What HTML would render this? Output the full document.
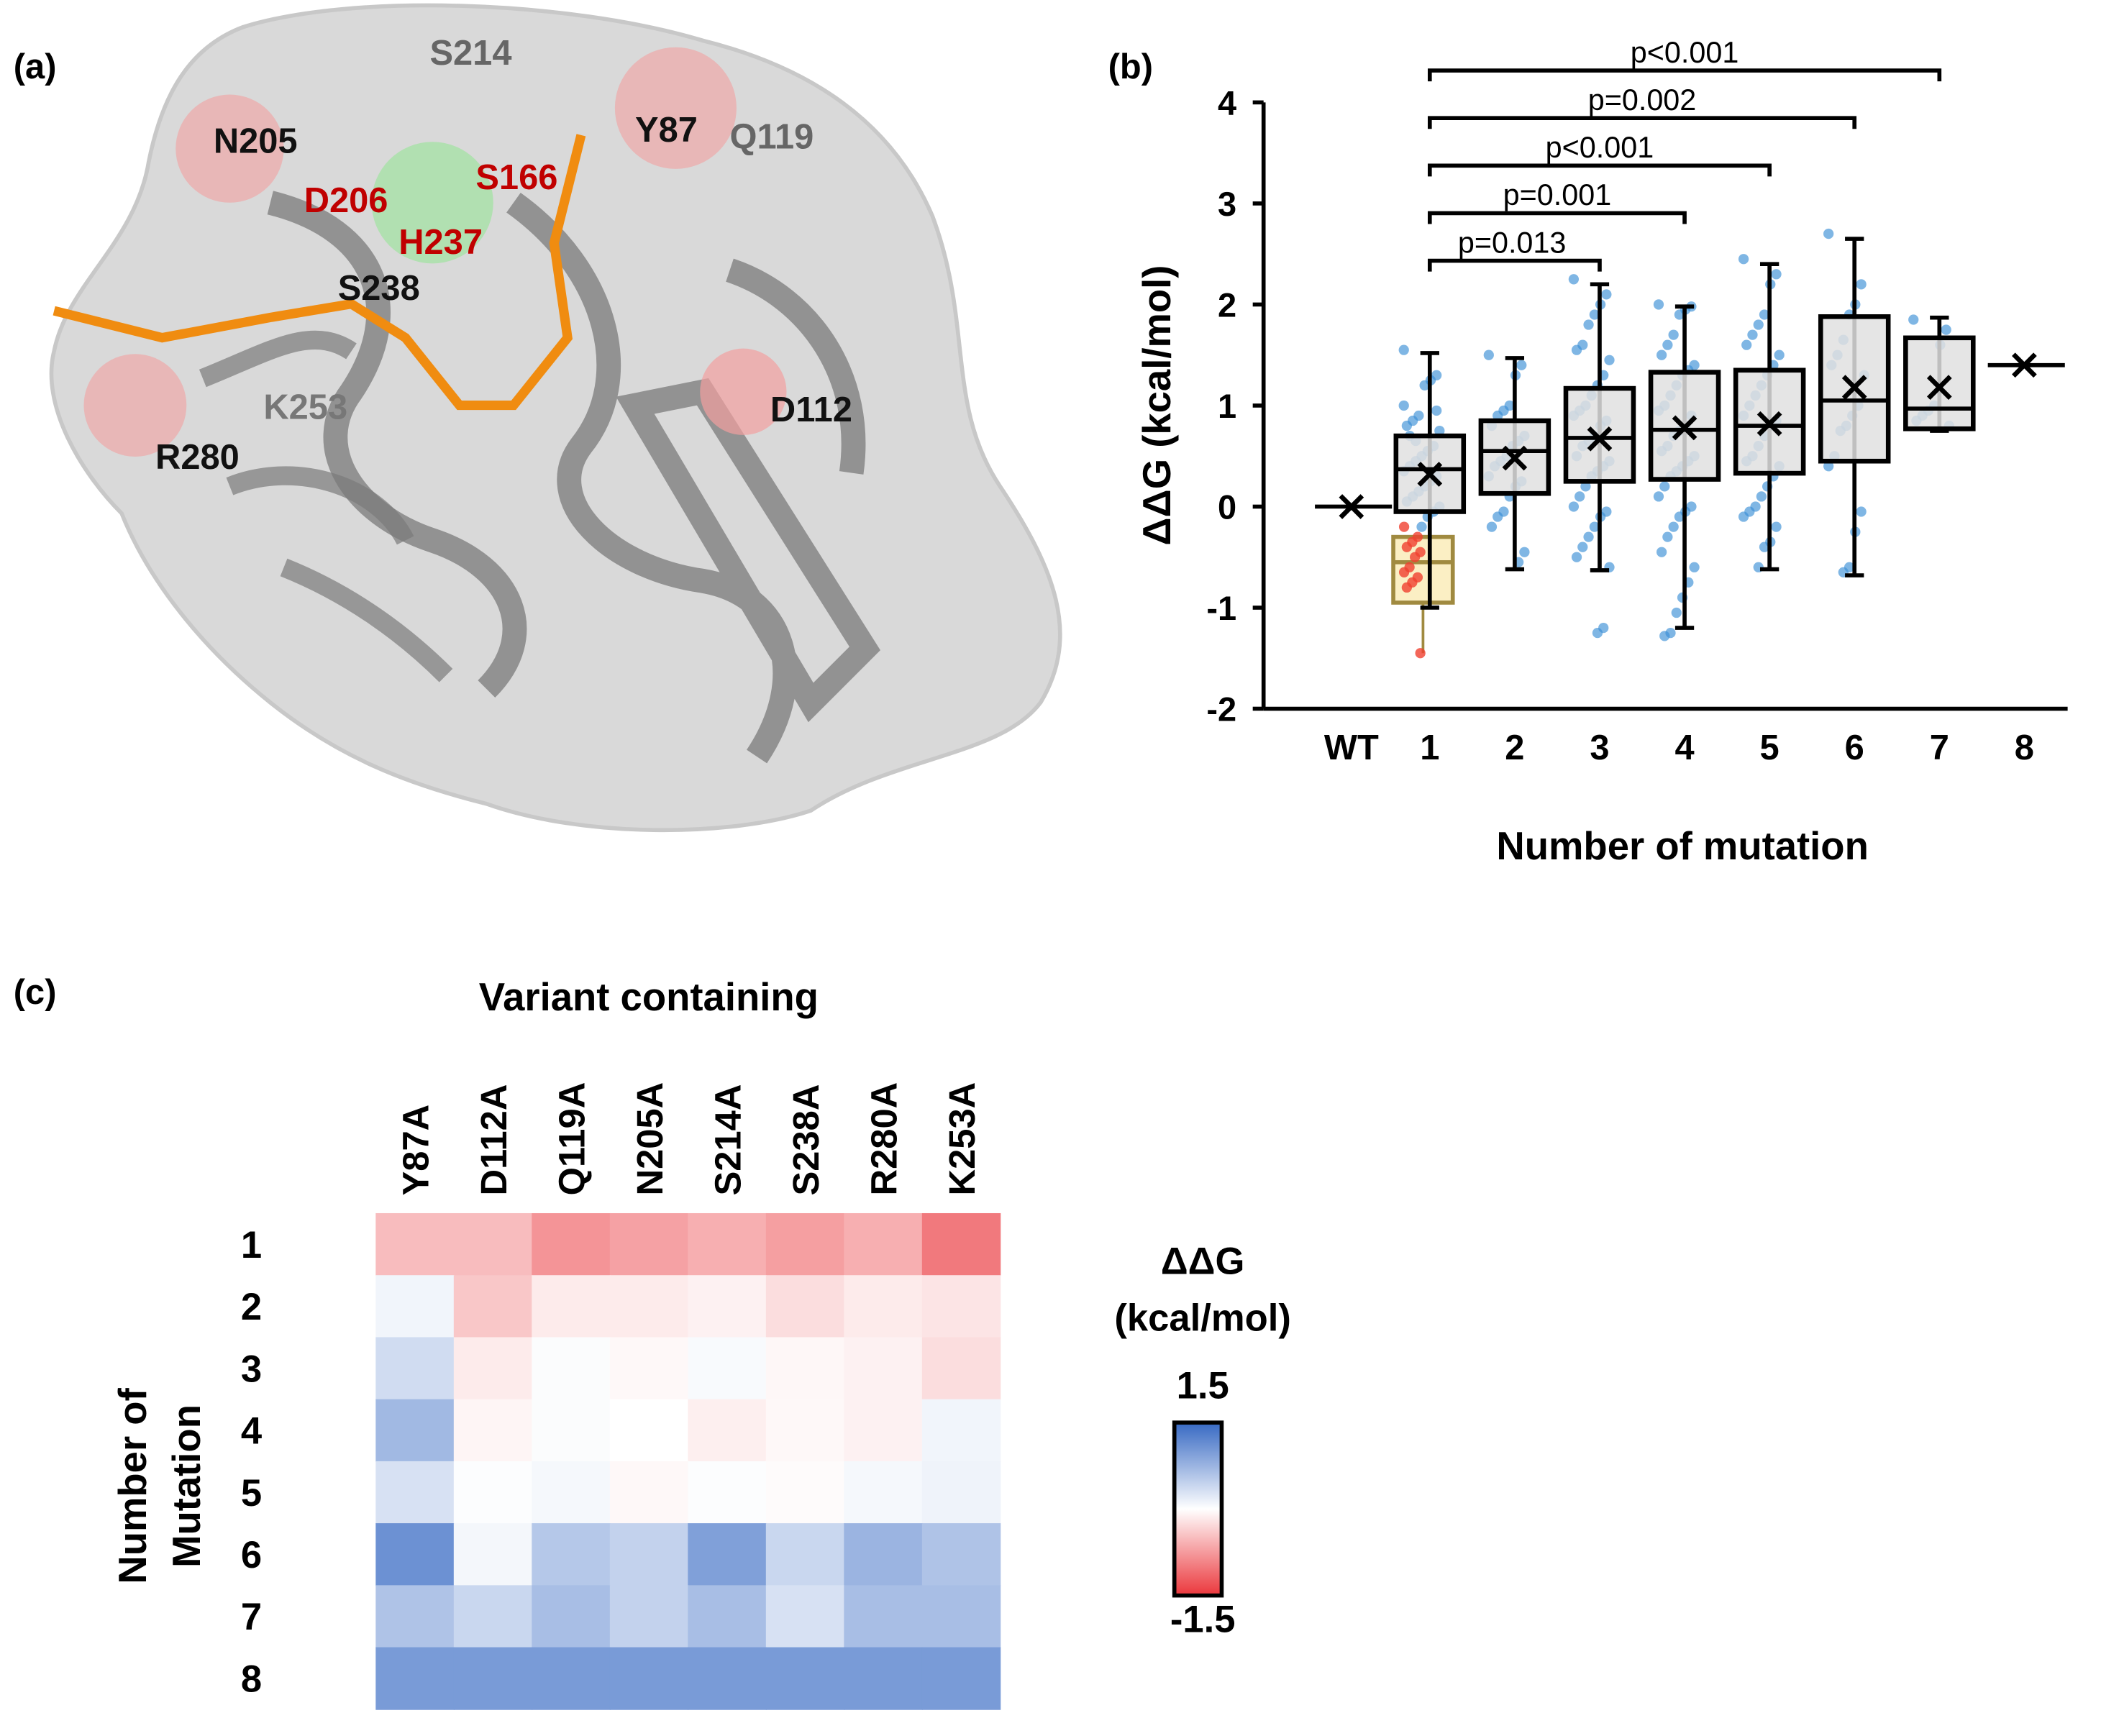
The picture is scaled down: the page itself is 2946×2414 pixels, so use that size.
<!DOCTYPE html>
<html><head><meta charset="utf-8"><style>
html,body{margin:0;padding:0;background:#fff}
svg{display:block}
text{font-family:"Liberation Sans",Arial,sans-serif}
</style></head><body>
<svg id="root" width="2946" height="2414" viewBox="0 0 1568 1285" preserveAspectRatio="none" xmlns="http://www.w3.org/2000/svg">
<rect width="1568" height="1285" fill="#fff"/>
<!-- Panel (a) -->
<g>
<path d="M180,20 C260,-5 420,0 520,30 C600,50 660,90 690,160 C720,240 700,300 740,360 C780,420 800,470 770,520 C740,560 660,560 600,600 C540,620 430,620 360,595 C300,580 250,560 200,520 C150,480 110,430 90,380 C60,350 30,300 40,260 C50,210 100,180 110,120 C120,70 140,35 180,20 Z" fill="#d9d9d9" stroke="#c8c8c8" stroke-width="3"/>
<path d="M200,150 C280,170 300,230 260,290 C230,330 260,380 320,400 C380,420 400,470 360,510 M380,150 C450,200 470,280 430,330 C400,370 450,420 520,430 C580,440 600,500 560,560 M470,300 L600,520 L640,480 L520,290 Z M540,200 C600,220 640,280 630,350" fill="none" stroke="#7a7a7a" stroke-width="18" opacity="0.75"/>
<path d="M170,360 C220,340 280,360 300,400 M210,420 C260,440 300,470 330,500 M150,280 C200,260 230,240 260,260" fill="none" stroke="#7a7a7a" stroke-width="14" opacity="0.7"/>
<circle cx="170" cy="110" r="40" fill="#f2a0a0" opacity="0.6"/>
<circle cx="500" cy="80" r="45" fill="#f2a0a0" opacity="0.6"/>
<circle cx="550" cy="290" r="32" fill="#f2a0a0" opacity="0.7"/>
<circle cx="100" cy="300" r="38" fill="#f2a0a0" opacity="0.6"/>
<circle cx="320" cy="150" r="45" fill="#9fe39f" opacity="0.7"/>
<path d="M40,230 L120,250 L200,235 L260,225 L300,250 L340,300 L380,300 L420,250 L410,180 L430,100" fill="none" stroke="#f08c10" stroke-width="7"/>
<text x="10" y="58" font-size="26" font-weight="bold">(a)</text>
<g font-size="26" font-weight="bold">
<text x="158" y="113" fill="#111">N205</text>
<text x="318" y="48" fill="#666">S214</text>
<text x="470" y="105" fill="#111">Y87</text>
<text x="540" y="110" fill="#666">Q119</text>
<text x="225" y="157" fill="#c00000">D206</text>
<text x="352" y="140" fill="#c00000">S166</text>
<text x="295" y="188" fill="#c00000">H237</text>
<text x="250" y="222" fill="#111">S238</text>
<text x="195" y="310" fill="#777">K253</text>
<text x="115" y="347" fill="#111">R280</text>
<text x="570" y="312" fill="#111">D112</text>
</g>
</g>
<!-- Panel (b) -->
<g id="pb">
<text x="820" y="58" font-size="26" font-weight="bold">(b)</text>
</g>
<!-- Panel (c) -->
<g id="pc">
<text x="10" y="743" font-size="26" font-weight="bold">(c)</text>
</g>
</svg>
<script>
// ---------- Panel b data ----------
const cats = ["WT","1","2","3","4","5","6","7","8"];
const q1s  = [null,-0.05,0.13,0.25,0.27,0.33,0.45,0.77,null];
const meds = [null,0.37,0.55,0.68,0.76,0.80,1.05,0.97,null];
const q3s  = [null,0.70,0.85,1.17,1.33,1.35,1.88,1.67,null];
const means= [0,0.32,0.48,0.67,0.78,0.82,1.18,1.18,1.40];
const wlo  = [null,-1.0,-0.62,-0.63,-1.20,-0.62,-0.68,0.75,null];
const whi  = [null,1.52,1.47,2.20,1.98,2.40,2.65,1.87,null];
const sub1 = {q1:-0.95,med:-0.55,q3:-0.30,mean:-0.62,lo:-1.45,hi:-0.30};
const pts1 = [1.55,1.3,1.25,1.2,0.9,0.85,0.8,0.75,0.6,0.55,0.5,0.45,0.4,0.35,0.3,0.25,0.2,0.15,0.1,0.05,0.0,-0.05,-0.1,-0.2,0.65,0.7,1.0,0.95];
const ptsR = [-0.2,-0.3,-0.35,-0.4,-0.45,-0.5,-0.6,-0.65,-0.7,-0.75,-0.8,-1.45];
const pts2 = [1.5,1.4,1.3,1.0,0.95,0.9,0.8,0.7,0.65,0.6,0.5,0.45,0.4,0.3,0.25,0.2,0.1,-0.05,-0.1,-0.2,-0.45,-0.55];
const pts3 = [2.25,2.1,2.0,1.9,1.8,1.6,1.55,1.45,1.3,1.2,1.1,1.0,0.95,0.9,0.85,0.8,0.7,0.65,0.6,0.5,0.45,0.4,0.35,0.3,0.2,0.1,0.0,-0.05,-0.1,-0.2,-0.3,-0.4,-0.5,-0.6,-1.2,-1.25];
const pts4 = [2.0,1.98,1.95,1.9,1.7,1.6,1.5,1.4,1.35,1.3,1.2,1.1,1.0,0.95,0.9,0.8,0.75,0.7,0.6,0.55,0.5,0.45,0.4,0.35,0.3,0.2,0.1,0.0,-0.05,-0.1,-0.2,-0.3,-0.45,-0.6,-0.75,-0.9,-1.05,-1.25,-1.28];
const pts5 = [2.45,2.3,2.2,1.9,1.8,1.7,1.6,1.5,1.4,1.3,1.2,1.1,1.0,0.9,0.85,0.8,0.7,0.6,0.5,0.45,0.4,0.3,0.2,0.1,0.0,-0.05,-0.1,-0.2,-0.35,-0.4,-0.6];
const pts6 = [2.7,2.2,2.0,1.9,1.65,1.5,1.4,1.3,1.0,0.9,0.8,0.75,0.5,0.4,-0.05,-0.25,-0.6,-0.65];
const pts7 = [1.85,1.75,1.6,1.0,0.95,0.9,0.85,0.8];
const allPts = [[],pts1,pts2,pts3,pts4,pts5,pts6,pts7,[]];
const yTicks = [-2,-1,0,1,2,3,4];
const sigP = ["p=0.013","p=0.001","p<0.001","p=0.002","p<0.001"];
const sigTo = [3,4,5,6,7];

// ---------- Panel c data ----------
const hmCols = ["Y87A","D112A","Q119A","N205A","S214A","S238A","R280A","K253A"];
const hmRows = ["1","2","3","4","5","6","7","8"];
const hmR1 = [-0.5,-0.5,-0.8,-0.7,-0.6,-0.72,-0.6,-1.0];
const hmR2 = [0.1,-0.42,-0.15,-0.15,-0.1,-0.25,-0.15,-0.2];
const hmR3 = [0.35,-0.15,0.03,-0.05,0.05,-0.06,-0.1,-0.25];
const hmR4 = [0.7,-0.07,0.03,0.0,-0.12,-0.05,-0.1,0.1];
const hmR5 = [0.3,0.02,0.07,-0.05,0.02,-0.03,0.07,0.12];
const hmR6 = [1.1,0.08,0.55,0.45,0.95,0.4,0.75,0.6];
const hmR7 = [0.6,0.4,0.65,0.45,0.65,0.3,0.65,0.65];
const hmR8 = [1.0,1.0,1.0,1.0,1.0,1.0,1.0,1.0];
const hmVals = [hmR1,hmR2,hmR3,hmR4,hmR5,hmR6,hmR7,hmR8];

const NS="http://www.w3.org/2000/svg";
function mk(p,tag,attrs,txt){const e=document.createElementNS(NS,tag);for(const k in attrs)e.setAttribute(k,attrs[k]);if(txt!=null)e.textContent=txt;p.appendChild(e);return e;}

// axis functions b
const yS = v => 375 - v*74.8;
const xS = i => i===0 ? 1000 : 1058 + (i-1)*62.85;
const pb = document.getElementById('pb');
let e;
e=mk(pb,'line',{x1:935,y1:yS(4),x2:935,y2:yS(-2),stroke:'#000','stroke-width':3});


yTicks.forEach(t=>{
  e=mk(pb,'line',{x1:927,y1:yS(t),x2:935,y2:yS(t),stroke:'#000','stroke-width':3});
  
  
  e=mk(pb,'text',{x:915,y:yS(t)+9,'font-size':25,'font-weight':'bold','text-anchor':'end'},String(t));
  
  
});
e=mk(pb,'line',{x1:935,y1:yS(-2),x2:1530,y2:yS(-2),stroke:'#000','stroke-width':3});


cats.forEach((c,i)=>{
  e=mk(pb,'text',{x:xS(i),y:562,'font-size':26,'font-weight':'bold','text-anchor':'middle'},c);
  
  
});
e=mk(pb,'text',{x:1245,y:636,'font-size':29,'font-weight':'bold','text-anchor':'middle'},'Number of mutation');


e=mk(pb,'text',{x:0,y:0,'font-size':29,'font-weight':'bold','text-anchor':'middle',transform:'translate(866,300) rotate(-90)'},'ΔΔG (kcal/mol)');



function xmark(cx,cy,s,col,w){
  return mk(pb,'path',{d:`M${cx-s},${cy-s}L${cx+s},${cy+s}M${cx-s},${cy+s}L${cx+s},${cy-s}`,stroke:col,'stroke-width':w,fill:'none'});
}
const bw=28;
allPts.forEach((arr,i)=>{
  arr.forEach((v,j)=>{
    const jit=((j*37)%13-6)*2.2;
    e=mk(pb,'circle',{cx:xS(i)-6+jit,cy:yS(v),r:3.8,fill:'#3a8fd6','fill-opacity':0.65});
    
    
  });
});
{
  const x=xS(1)-5;
  e=mk(pb,'line',{x1:x,y1:yS(sub1.lo),x2:x,y2:yS(sub1.q1),stroke:'#a08a40','stroke-width':2});
  
  
  e=mk(pb,'rect',{x:x-22,y:yS(sub1.q3),width:44,height:yS(sub1.q1)-yS(sub1.q3),fill:'#fbefc4',stroke:'#a08a40','stroke-width':3});
  
  
  e=mk(pb,'line',{x1:x-22,y1:yS(sub1.med),x2:x+22,y2:yS(sub1.med),stroke:'#a08a40','stroke-width':3});
  
  
  ptsR.forEach((v,j)=>{
    e=mk(pb,'circle',{cx:x-8+((j*5)%7-3)*2,cy:yS(v),r:3.8,fill:'#f04030','fill-opacity':0.8});
    
    
  });
}
cats.forEach((c,i)=>{
  const x=xS(i);
  if(q1s[i]==null){
    e=mk(pb,'line',{x1:x-27,y1:yS(means[i]),x2:x+30,y2:yS(means[i]),stroke:'#000','stroke-width':3});
    
    
    e=xmark(x,yS(means[i]),8,'#000',3.5);
    
    
    return;
  }
  e=mk(pb,'line',{x1:x,y1:yS(whi[i]),x2:x,y2:yS(wlo[i]),stroke:'#000','stroke-width':3});
  
  
  [whi[i],wlo[i]].forEach(v=>{
    e=mk(pb,'line',{x1:x-7,y1:yS(v),x2:x+7,y2:yS(v),stroke:'#000','stroke-width':3});
    
    
  });
  e=mk(pb,'rect',{x:x-bw+3,y:yS(q3s[i]),width:bw*2-6,height:yS(q1s[i])-yS(q3s[i]),fill:'#e0e0e0','fill-opacity':0.85,stroke:'#000','stroke-width':3.5});
  
  
  e=mk(pb,'line',{x1:x-bw+3,y1:yS(meds[i]),x2:x+bw-3,y2:yS(meds[i]),stroke:'#000','stroke-width':3});
  
  
  e=xmark(x,yS(means[i]),8,'#000',3.5);
  
  
});
sigTo.forEach((t,k)=>{
  const y=193-k*35.2, x1=xS(1), x2=xS(t);
  e=mk(pb,'path',{d:`M${x1},${y+8}V${y}H${x2}V${y+8}`,stroke:'#000','stroke-width':3,fill:'none'});
  
  
  e=mk(pb,'text',{x:(k==0?(x1+x2)/2-2:(x1+x2)/2),y:y-6,'font-size':22,'text-anchor':'middle'},sigP[k]);
  
  
});

// ---------- heatmap ----------
const pc=document.getElementById('pc');
const cx0=278, cw=57.75, ry0=898, rh=45.9;
const hx=j=>cx0+j*cw, hy=i=>ry0+i*rh;
function col(v){
  const t=Math.max(-1,Math.min(1,v/1.5));
  let r,g,b;
  if(t>=0){r=255+(55-255)*t;g=255+(105-255)*t;b=255+(195-255)*t;}
  else{const s=-t;r=255+(235-255)*s;g=255+(55-255)*s;b=255+(60-255)*s;}
  return `rgb(${r|0},${g|0},${b|0})`;
}
hmVals.forEach((row,i)=>row.forEach((v,j)=>{
  e=mk(pc,'rect',{x:hx(j),y:hy(i),width:cw+0.5,height:rh+0.5,fill:col(v)});
  
  
}));
hmCols.forEach((c,j)=>{
  e=mk(pc,'text',{x:0,y:0,'font-size':27,'font-weight':'bold',transform:`translate(${hx(j)+cw/2+10},885) rotate(-90)`},c);
  
  
});
hmRows.forEach((r,i)=>{
  e=mk(pc,'text',{x:186,y:hy(i)+rh/2+10,'font-size':28,'font-weight':'bold','text-anchor':'middle'},r);
  
  
});
e=mk(pc,'text',{x:480,y:748,'font-size':29,'font-weight':'bold','text-anchor':'middle'},'Variant containing');


e=mk(pc,'text',{x:0,y:0,'font-size':29,'font-weight':'bold','text-anchor':'middle',transform:'translate(108,1100) rotate(-90)'},'Number of');


e=mk(pc,'text',{x:0,y:0,'font-size':29,'font-weight':'bold','text-anchor':'middle',transform:'translate(148,1100) rotate(-90)'},'Mutation');


const defs=mk(pc,'defs',{});
const lg=mk(defs,'linearGradient',{id:'cb',x1:0,y1:0,x2:0,y2:1});
mk(lg,'stop',{offset:'0','stop-color':col(1.5)});
mk(lg,'stop',{offset:'0.5','stop-color':'#fff'});
mk(lg,'stop',{offset:'1','stop-color':col(-1.5)});
e=mk(pc,'rect',{x:869,y:1053,width:35,height:128,fill:'url(#cb)',stroke:'#000','stroke-width':3});


[['ΔΔG',943,'legend-title'],['(kcal/mol)',985,'legend-units'],['1.5',1035,'colorbar-max-label'],['-1.5',1208,'colorbar-min-label']].forEach(a=>{
  e=mk(pc,'text',{x:890,y:a[1],'font-size':28,'font-weight':'bold','text-anchor':'middle'},a[0]);
  
  
});
</script>
</body></html>
